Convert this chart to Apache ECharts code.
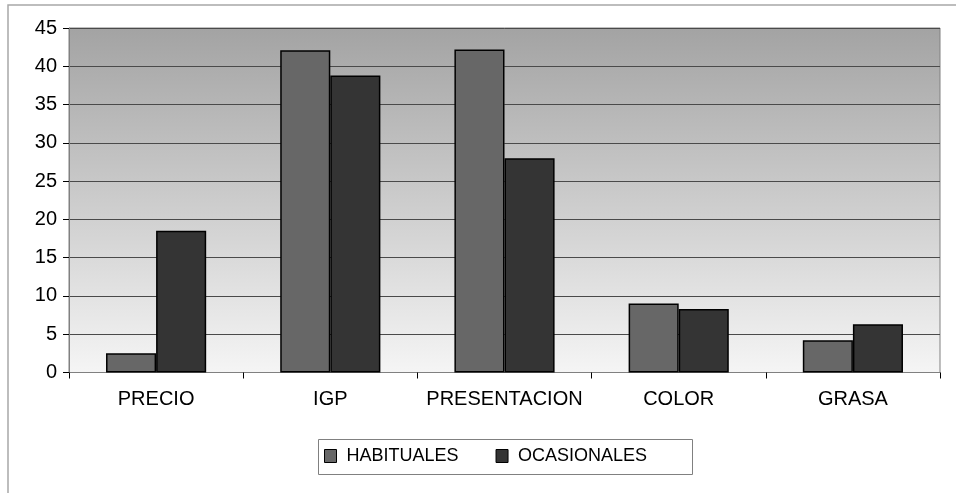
<!DOCTYPE html>
<html>
<head>
<meta charset="utf-8">
<script src="https://cdn.jsdelivr.net/npm/echarts@6/dist/echarts.min.js"></script>
<style>
  html, body { margin: 0; padding: 0; background: #ffffff; }
  #chart { width: 956px; height: 493px; }
</style>
</head>
<body>
<div id="chart"></div>
<script>
// Factors and percentage of buyers for each group
const categories = ['PRECIO', 'IGP', 'PRESENTACION', 'COLOR', 'GRASA'];
const habituales = [2.5, 42.1, 42.2, 9.0, 4.2];
const ocasionales = [18.5, 38.8, 28.0, 8.3, 6.3];
const seriesNames = ['HABITUALES', 'OCASIONALES'];
const yTicks = { min: 0, max: 45, interval: 5 };

const chart = echarts.init(document.getElementById('chart'), null, { renderer: 'canvas' });
const font = '"Liberation Sans", Arial, sans-serif';

chart.setOption({
  animation: false,
  backgroundColor: '#ffffff',
  graphic: [
    { type: 'rect', z: -10, silent: true,
      shape: { x: 8, y: 5, width: 1200, height: 1200 },
      style: { fill: 'none', stroke: '#a8a8a8', lineWidth: 1.5 } },
    { type: 'rect', z: -10, silent: true,
      shape: { x: 318.5, y: 439.5, width: 374, height: 35 },
      style: { fill: '#ffffff', stroke: '#808080', lineWidth: 1 } }
  ],
  grid: {
    left: 69, right: 16, top: 28, bottom: 120.5,
    show: true,
    borderColor: '#808080',
    borderWidth: 1,
    backgroundColor: new echarts.graphic.LinearGradient(0, 0, 0, 1, [
      { offset: 0, color: '#a3a3a3' },
      { offset: 1, color: '#f5f5f5' }
    ])
  },
  legend: {
    data: seriesNames,
    left: 324,
    top: 447,
    padding: 0,
    itemGap: 37,
    itemWidth: 12,
    itemHeight: 13,
    icon: 'rect',
    itemStyle: { borderColor: '#000000', borderWidth: 1 },
    textStyle: { fontFamily: font, fontSize: 18, color: '#000000', padding: [0, 0, 0, 5] }
  },
  xAxis: {
    type: 'category',
    data: categories,
    axisLine: { lineStyle: { color: '#808080', width: 1 } },
    axisTick: { show: true, interval: 0, length: 6, alignWithLabel: false, lineStyle: { color: '#000000' } },
    axisLabel: { interval: 0, fontFamily: font, fontSize: 20, color: '#000000', margin: 17 },
    splitLine: { show: false }
  },
  yAxis: {
    type: 'value',
    min: yTicks.min, max: yTicks.max, interval: yTicks.interval,
    axisLine: { show: true, lineStyle: { color: '#808080', width: 1 } },
    axisTick: { show: true, length: 6, lineStyle: { color: '#000000' } },
    axisLabel: { fontFamily: font, fontSize: 20, color: '#000000', margin: 12 },
    splitLine: { show: true, lineStyle: { color: '#4a4a4a', width: 1 } }
  },
  series: [
    {
      name: seriesNames[0], type: 'bar', data: habituales,
      barGap: '0%', barCategoryGap: '42.5%',
      itemStyle: { color: '#676767', borderColor: '#000000', borderWidth: 1.5 }
    },
    {
      name: seriesNames[1], type: 'bar', data: ocasionales,
      barGap: '0%', barCategoryGap: '42.5%',
      itemStyle: { color: '#343434', borderColor: '#000000', borderWidth: 1.5 }
    }
  ]
});
</script>
</body>
</html>
